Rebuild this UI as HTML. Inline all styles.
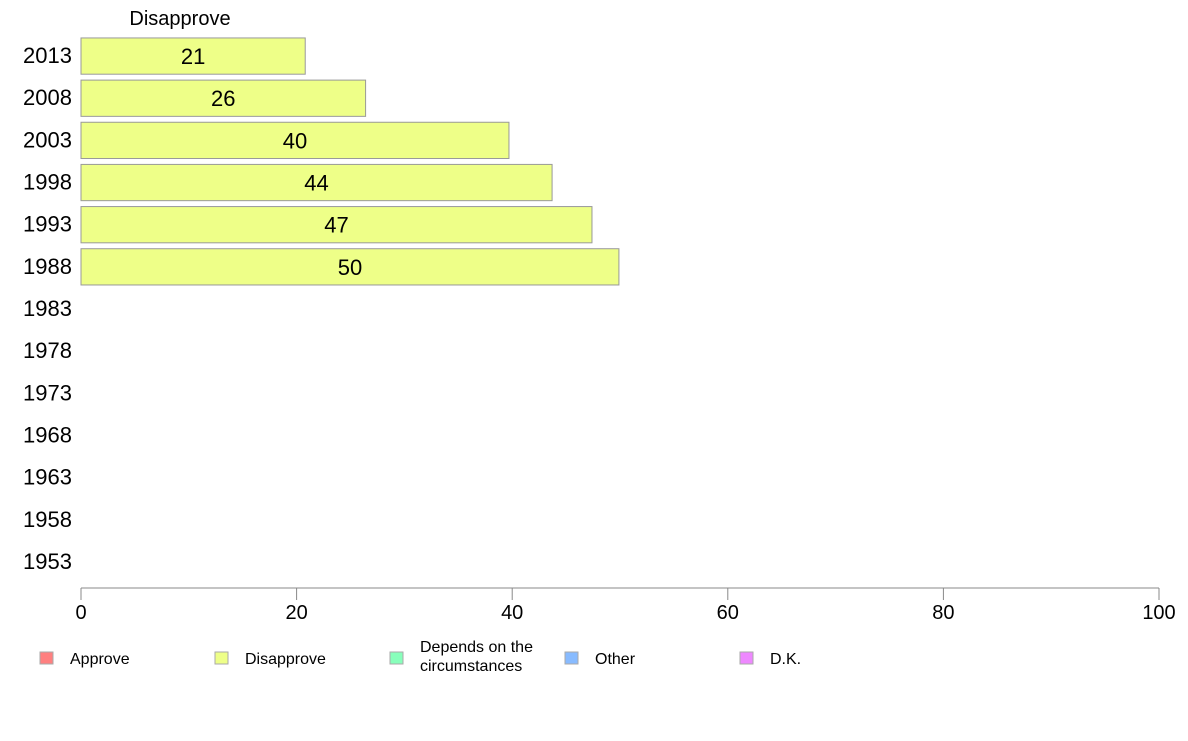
<!DOCTYPE html>
<html><head><meta charset="utf-8"><style>
body{margin:0;background:#fff;font-family:"Liberation Sans",sans-serif}
</style></head><body>
<svg id="chart" width="1188" height="736" xmlns="http://www.w3.org/2000/svg" font-family="Liberation Sans, sans-serif">
<text x="180" y="25" font-size="20" text-anchor="middle">Disapprove</text>
<g id="bars"></g>
<g id="yaxis"></g>
<g id="xaxis"></g>
<g id="legend"></g>
</svg>
<script>
const years = ["2013","2008","2003","1998","1993","1988","1983","1978","1973","1968","1963","1958","1953"];
const values = [20.8, 26.4, 39.7, 43.7, 47.4, 49.9, null, null, null, null, null, null, null];
const valueLabels = ["21","26","40","44","47","50","","","","","","",""];
const xTicks = [0,20,40,60,80,100];
const legendItems = ["Approve","Disapprove","Depends on the|circumstances","Other","D.K."];
const legendColors = ["#ff8080","#eeff88","#88ffbb","#88bbff","#ee88ff"];

const NS="http://www.w3.org/2000/svg";
const x0=81,x1=1159,yTop=35,yBot=583;
const xs=v=>x0+(v/100)*(x1-x0);
const band=(yBot-yTop)/years.length;
const yc=i=>yTop+band*(i+0.5);
function mk(t,a,p){const e=document.createElementNS(NS,t);for(const k in a)e.setAttribute(k,a[k]);p.appendChild(e);return e;}
const gb=document.getElementById('bars'),gy=document.getElementById('yaxis'),gx=document.getElementById('xaxis'),gl=document.getElementById('legend');
years.forEach((yr,i)=>{
  const t=mk('text',{x:72,y:yc(i)+7,'font-size':22,'text-anchor':'end'},gy);t.textContent=yr;
  
  
  if(values[i]!=null){
    const h=band*0.86;
    const r=mk('rect',{x:x0,y:yc(i)-h/2,width:xs(values[i])-x0,height:h,fill:'#eeff88',stroke:'#999','stroke-width':1},gb);
    
    
    const l=mk('text',{x:(x0+xs(values[i]))/2,y:yc(i)+8,'font-size':22,'text-anchor':'middle'},gb);l.textContent=valueLabels[i];
    
    
  }
});
const al=mk('line',{x1:x0,x2:x1,y1:588,y2:588,stroke:'#888','stroke-width':1},gx);


xTicks.forEach(v=>{
  const tk=mk('line',{x1:xs(v),x2:xs(v),y1:588,y2:600,stroke:'#888','stroke-width':1},gx);
  
  
  const t=mk('text',{x:xs(v),y:619,'font-size':20,'text-anchor':'middle'},gx);t.textContent=v;
  
  
});
legendItems.forEach((s,i)=>{
  const lx=40+i*175;
  const r=mk('rect',{x:lx,y:652,width:13,height:12,fill:legendColors[i],stroke:'#aaa'},gl);
  
  
  const parts=s.split('|');
  const t=mk('text',{x:lx+30,y:parts.length>1?652:664,'font-size':16},gl);
  
  
  parts.forEach((p,j)=>{const ts=mk('tspan',{x:lx+30,dy:j?19:0},t);ts.textContent=p;});
});
</script>
</body></html>
